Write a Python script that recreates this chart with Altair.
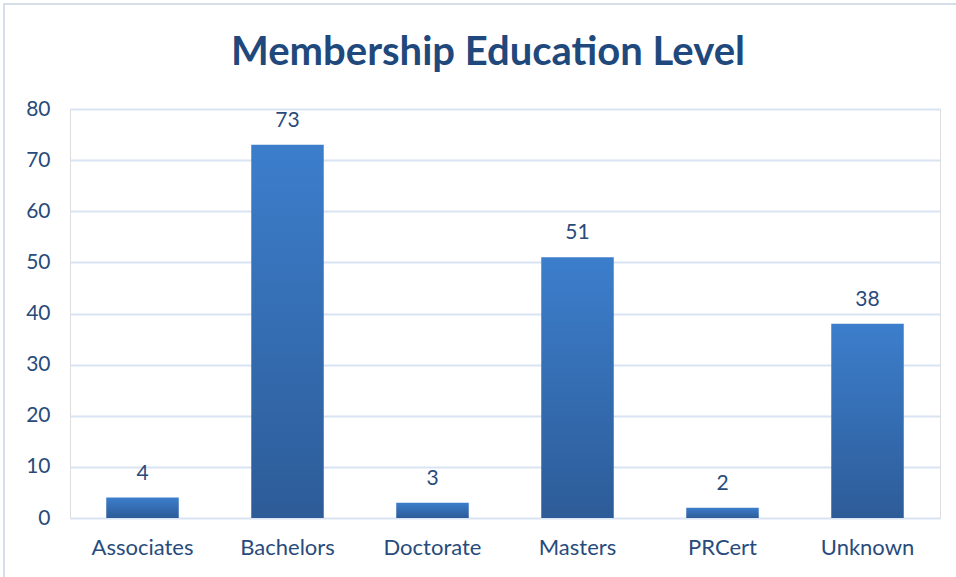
import altair as alt
import pandas as pd

categories = ["Associates", "Bachelors", "Doctorate", "Masters", "PRCert", "Unknown"]
counts = [4, 73, 3, 51, 2, 38]

df = pd.DataFrame({"level": categories, "count": counts})

FONT = "Lato"
TEXT = "#284B7B"

grad = alt.LinearGradient(
    gradient="linear",
    stops=[alt.GradientStop(color="#3C7ECC", offset=0),
           alt.GradientStop(color="#2D5C98", offset=1)],
    x1=0, x2=0, y1=0, y2=1,
)

base = alt.Chart(df).encode(
    x=alt.X("level:N", sort=categories, title=None,
            scale=alt.Scale(paddingInner=0.5, paddingOuter=0.25),
            axis=alt.Axis(labelAngle=0, labelFontSize=22, labelColor=TEXT,
                          labelFont=FONT, labelPadding=19, domain=False, ticks=False)),
    y=alt.Y("count:Q", title=None,
            scale=alt.Scale(domain=[0, 80]),
            axis=alt.Axis(values=[0, 10, 20, 30, 40, 50, 60, 70, 80], labelFontSize=21,
                          labelColor=TEXT, labelFont=FONT, labelPadding=20,
                          domain=False, ticks=False, gridColor="#D9E4F3", gridWidth=2)),
)

frame = alt.Chart(df).mark_rect(fill=None, stroke="#D6DEEA", strokeWidth=1.5, clip=False).encode(
    x=alt.value(-66), x2=alt.value(900), y=alt.value(-105), y2=alt.value(480)
)

bars = base.mark_bar(fill=grad)
labels = base.mark_text(baseline="bottom", dy=-14, fontSize=21, font=FONT, color=TEXT).encode(
    text="count:Q"
)

chart = alt.layer(frame, bars, labels).properties(
    width=870, height=409,
    padding={"left": 70, "top": 109, "right": 16, "bottom": 59},
    autosize=alt.AutoSizeParams(type="none"),
    title=alt.TitleParams("Membership Education Level", fontSize=40, font=FONT,
                          fontWeight="bold", color="#1F497D", anchor="middle",
                          dx=-17, offset=-70),
).configure_view(stroke=None).configure(background="white")

chart.save("out.html", embed_options={"renderer": "svg", "actions": False})
